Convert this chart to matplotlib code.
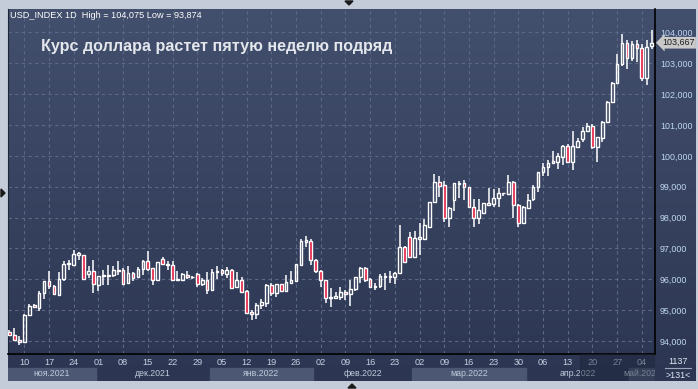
import numpy as np
import pandas as pd
import matplotlib.pyplot as plt
from matplotlib.colors import LinearSegmentedColormap
from matplotlib.patches import Rectangle, Polygon
from matplotlib.ticker import FuncFormatter

plt.rcParams['font.family'] = ['Liberation Sans', 'DejaVu Sans']

# daily bars, 05.11.2021 - 06.05.2022
dates = pd.bdate_range("2021-11-05", "2022-05-06")

opens = [94.29, 94.21, 94.02, 93.96, 94.86, 95.16, 95.07, 95.56, 95.94, 95.77,
         95.50, 96.01, 96.50, 96.48, 96.80, 96.78, 96.17, 96.26, 95.83, 96.10,
         96.11, 96.15, 96.26, 96.29, 95.88, 96.21, 96.07, 96.35, 96.58, 96.37,
         95.97, 96.66, 96.45, 96.45, 95.97, 95.99, 96.13, 96.06, 96.17, 95.86,
         95.98, 95.64, 96.24, 96.29, 96.17, 96.30, 95.76, 95.98, 95.62, 94.94,
         94.88, 95.16, 95.24, 95.80, 95.55, 95.84, 95.63, 95.89, 95.96, 96.46,
         97.22, 97.24, 96.63, 96.26, 95.98, 95.40, 95.41, 95.42, 95.58, 95.51,
         95.69, 96.06, 96.36, 96.00, 95.74, 95.78, 96.06, 96.06, 96.06, 96.19,
         97.04, 97.38, 96.73, 97.32, 97.31, 97.71, 98.52, 99.14, 99.05, 97.98,
         98.57, 99.09, 99.11, 98.98, 98.35, 98.00, 98.16, 98.41, 98.43, 98.63,
         98.79, 98.75, 99.14, 98.41, 97.81, 98.32, 98.60, 98.98, 99.47, 99.63,
         99.78, 99.81, 99.97, 100.32, 99.81, 100.30, 100.54, 100.81, 100.97, 100.30,
         100.59, 101.11, 101.74, 102.35, 102.97, 103.65, 103.18, 103.62, 103.49, 102.51,
         103.56]
highs = [94.35, 94.42, 94.15, 94.88, 95.20, 95.21, 95.61, 95.96, 96.28, 95.83,
         96.24, 96.58, 96.64, 96.95, 96.88, 96.80, 96.42, 96.64, 96.12, 96.31,
         96.48, 96.42, 96.58, 96.37, 96.42, 96.24, 96.39, 96.61, 96.91, 96.38,
         96.56, 96.71, 96.58, 96.58, 96.26, 96.19, 96.26, 96.10, 96.21, 96.04,
         96.23, 96.35, 96.42, 96.35, 96.39, 96.33, 96.23, 96.09, 95.67, 95.00,
         95.24, 95.35, 95.85, 95.87, 95.85, 95.85, 96.14, 96.27, 96.50, 97.30,
         97.42, 97.30, 96.65, 96.30, 95.99, 95.71, 95.60, 95.76, 95.65, 95.98,
         96.09, 96.41, 96.39, 96.03, 95.87, 96.16, 96.19, 96.27, 96.23, 97.76,
         97.09, 97.54, 97.58, 97.84, 97.94, 98.49, 99.40, 99.36, 99.20, 98.35,
         99.13, 99.19, 99.22, 98.99, 98.60, 98.60, 98.46, 98.95, 98.92, 98.95,
         98.81, 99.38, 99.19, 98.44, 98.38, 98.75, 99.06, 99.49, 99.78, 99.87,
         100.17, 100.08, 100.35, 100.39, 100.80, 100.57, 100.95, 101.06, 101.02, 100.62,
         101.14, 101.78, 102.41, 103.29, 103.95, 103.76, 103.73, 103.76, 103.62, 103.76,
         104.075]
lows = [94.15, 93.99, 93.874, 93.95, 94.80, 95.07, 94.96, 95.36, 95.70, 95.50,
        95.50, 95.96, 96.31, 96.42, 96.64, 95.98, 96.04, 95.56, 95.63, 95.83,
        95.83, 96.07, 96.15, 95.83, 95.86, 95.96, 96.04, 96.15, 96.26, 95.83,
        95.96, 96.45, 96.31, 95.99, 95.94, 95.94, 96.02, 96.01, 95.74, 95.77,
        95.52, 95.61, 96.02, 96.10, 96.04, 95.69, 95.71, 95.57, 94.88, 94.68,
        94.70, 95.03, 95.11, 95.46, 95.42, 95.60, 95.60, 95.85, 95.92, 96.43,
        97.04, 96.46, 96.22, 95.76, 95.22, 95.11, 95.35, 95.33, 95.33, 95.15,
        95.63, 95.89, 95.92, 95.71, 95.65, 95.71, 95.65, 95.89, 95.84, 96.17,
        96.52, 96.71, 96.71, 96.79, 97.27, 97.67, 98.50, 98.68, 97.85, 97.68,
        98.22, 98.62, 98.57, 98.32, 97.71, 97.79, 98.11, 98.39, 98.35, 98.35,
        98.70, 98.73, 98.00, 97.68, 97.79, 98.30, 98.54, 98.82, 99.36, 99.36,
        99.76, 99.58, 99.70, 99.79, 99.54, 100.28, 100.44, 100.78, 100.22, 99.79,
        100.44, 101.08, 101.71, 102.32, 102.92, 102.81, 103.08, 103.03, 102.43, 102.30,
        103.46]
closes = [94.19, 94.02, 93.96, 94.86, 95.15, 95.09, 95.56, 95.94, 95.79, 95.52,
          96.01, 96.50, 96.53, 96.82, 96.84, 96.02, 96.26, 95.86, 96.10, 96.13,
          96.15, 96.30, 96.29, 95.86, 96.21, 96.04, 96.35, 96.58, 96.35, 95.97,
          96.55, 96.50, 96.50, 95.99, 96.00, 96.17, 96.07, 96.08, 95.86, 95.98,
          95.64, 96.24, 96.28, 96.19, 96.29, 95.71, 95.98, 95.60, 94.92, 94.88,
          95.17, 95.25, 95.82, 95.55, 95.84, 95.63, 95.90, 95.98, 96.50, 97.24,
          97.27, 96.63, 96.26, 95.98, 95.38, 95.44, 95.46, 95.58, 95.51, 95.68,
          96.06, 96.36, 95.98, 95.74, 95.79, 96.11, 96.11, 96.11, 96.19, 97.04,
          96.55, 96.73, 97.33, 97.36, 97.76, 98.49, 99.14, 99.04, 97.98, 98.30,
          99.11, 99.13, 98.98, 98.35, 98.00, 98.25, 98.46, 98.46, 98.63, 98.79,
          98.81, 99.14, 98.41, 97.81, 98.35, 98.57, 98.98, 99.49, 99.63, 99.78,
          99.84, 100.00, 100.32, 99.81, 100.32, 100.48, 100.81, 100.97, 100.28, 100.62,
          101.11, 101.74, 102.35, 102.98, 103.65, 103.16, 103.63, 103.49, 102.51, 103.54,
          103.667]

title = "Курс доллара растет пятую неделю подряд"
ticker = "USD_INDEX 1D"
month_names = ["ноя.2021", "дек.2021", "янв.2022", "фев.2022", "мар.2022", "апр.2022", "май.2022"]


def comma(v):
    return f"{v:.3f}".replace(".", ",")


W, H = 698, 389
fig = plt.figure(figsize=(W / 100, H / 100), dpi=100, facecolor="#c3ccd8")


def px(x0, y0, x1, y1):
    # pixel box (top-left origin) -> figure fraction
    return [x0 / W, 1 - y1 / H, (x1 - x0) / W, (y1 - y0) / H]


# dark gradient background
bg = fig.add_axes(px(8, 9, 696, 381))
grad = LinearSegmentedColormap.from_list("bg", ["#424f6d", "#2c3652"])
bg.imshow(np.linspace(0, 1, 200).reshape(-1, 1), cmap=grad, aspect="auto")
bg.axis("off")

# main chart
ax = fig.add_axes(px(8, 9, 655, 354))
ax.patch.set_visible(False)
n = len(dates)
x = np.arange(n)
o, h, l, c = map(np.array, (opens, highs, lows, closes))
top = np.maximum(o, c)
bot = np.minimum(o, c)
up = c >= o

ax.vlines(x, top, h, color="white", lw=1.1, zorder=3)
ax.vlines(x, l, bot, color="white", lw=1.1, zorder=3)
ax.bar(x, top - bot, 0.55, bot, color=["none" if u else "#e3163b" for u in up],
       edgecolor="white", linewidth=1.0, zorder=4)

ax.set_xlim(-0.3, 130.67)
ax.set_ylim(93.58, 104.76)

wed = [i for i, d in enumerate(dates) if d.weekday() == 2]
ax.set_xticks(wed)
ax.set_yticks(np.arange(94, 105))
ax.grid(True, color="#5b6886", lw=0.8, ls=(0, (3, 3)))
ax.tick_params(axis="x", length=0, labelbottom=False)
ax.yaxis.tick_right()
ax.tick_params(axis="y", length=0, pad=3.5, labelsize=6.4, labelcolor="#bfd7f3")
ax.yaxis.set_major_formatter(FuncFormatter(lambda v, _: comma(v)))
ax.spines["top"].set_visible(False)
ax.spines["left"].set_color("#1d2539")
ax.spines["right"].set_color("black")
ax.spines["bottom"].set_color("black")
ax.spines["right"].set_linewidth(1.2)
ax.spines["bottom"].set_linewidth(1.2)

# last price tag
ax.text(1.011, c[-1], comma(c[-1]), transform=ax.get_yaxis_transform(),
        va="center", ha="left", fontsize=6.4, color="#1b1b1b", clip_on=False,
        bbox=dict(boxstyle="larrow,pad=0.15", fc="#c9c9c9", ec="none"))

# header and title
fig.text(10 / W, 1 - 15.5 / H, f"{ticker}  High = {comma(h.max())} Low = {comma(l.min())}",
         fontsize=6.6, color="white", va="center")
fig.text(41 / W, 1 - 46 / H, title, fontsize=11.6, fontweight="bold",
         color="#e3e6eb", va="center")

# time axis panel
axb = fig.add_axes(px(8, 354, 655, 381))
axb.patch.set_visible(False)
axb.set_xlim(ax.get_xlim())
axb.set_ylim(0, 1)
axb.axis("off")
for i in wed:
    axb.text(i, 0.67, dates[i].strftime("%d"), ha="center", va="center",
             fontsize=6.6, color="#c5cfe0", clip_on=True)
starts = [0] + [i for i in range(1, n) if dates[i].month != dates[i - 1].month]
ends = starts[1:] + [n]
for k, (s, e) in enumerate(zip(starts, ends)):
    if k % 2 == 0:
        axb.add_patch(Rectangle((s - 0.5, 0), e - s, 0.48, color="#4b5773", zorder=0))
    axb.text((s + e - 1) / 2, 0.26, month_names[k], ha="center", va="center",
             fontsize=6.3, color="#c0cadb", clip_on=True)
axb.add_patch(Rectangle((0.884, 0), 0.116, 1, transform=axb.transAxes,
                        color="#1c2438", alpha=0.45, zorder=5))

# corner counters
fig.text(678 / W, 1 - 361 / H, "1137", ha="center", va="center", fontsize=6.4, color="#e2e8f2")
fig.text(678 / W, 1 - 375.5 / H, f">{n}<", ha="center", va="center", fontsize=6.4, color="#e2e8f2")

# pixel overlay for small UI marks
ov = fig.add_axes([0, 0, 1, 1])
ov.set_xlim(0, W)
ov.set_ylim(H, 0)
ov.axis("off")
ov.patch.set_visible(False)
ov.plot([665, 691], [368, 368], color="#9aa6bb", lw=0.8)
ov.add_patch(Polygon([[345, 1], [353, 1], [349, 5]], color="#1a1a1a"))
ov.add_patch(Polygon([[348, 388], [356, 388], [352, 384]], color="#1a1a1a"))
ov.add_patch(Polygon([[1, 189], [1, 197], [5, 193]], color="#1a1a1a"))

fig.savefig("out.png", dpi=100, facecolor=fig.get_facecolor())
